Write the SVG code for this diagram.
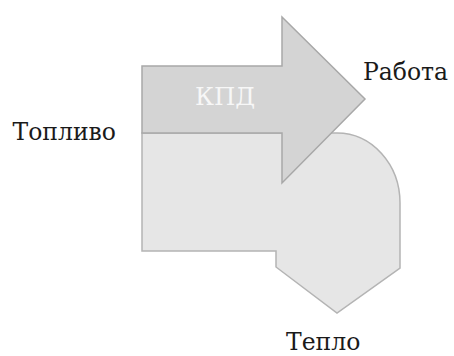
<svg xmlns="http://www.w3.org/2000/svg" width="454" height="356" viewBox="0 0 454 356">
<style>
.lbl{font-family:"DejaVu Serif","Liberation Serif",serif;font-size:23.5px;fill:#1a1a1a}
.in{font-family:"DejaVu Serif","Liberation Serif",serif;font-size:24.5px;fill:#f7f7f7}
</style>
<rect width="454" height="356" fill="#ffffff"/>
<g id="heat">
<path d="M142,133 H337 A63,70 0 0 1 400,203 V268 L337,313 L276,267 V251 H142 Z" fill="#e6e6e6" stroke="#b4b4b4" stroke-width="1.5"/>
</g>
<g id="work">
<path d="M142,66 H282 V17 L365,99 L282,183 V133 H142 Z" fill="#d4d4d4" stroke="#a8a8a8" stroke-width="1.5"/>
<text class="in" x="195" y="105">КПД</text>
</g>
<g id="labels">
<text class="lbl" x="12.5" y="140">Топливо</text>
<text class="lbl" x="363" y="80">Работа</text>
<text class="lbl" x="286" y="349.5">Тепло</text>
</g>
</svg>
